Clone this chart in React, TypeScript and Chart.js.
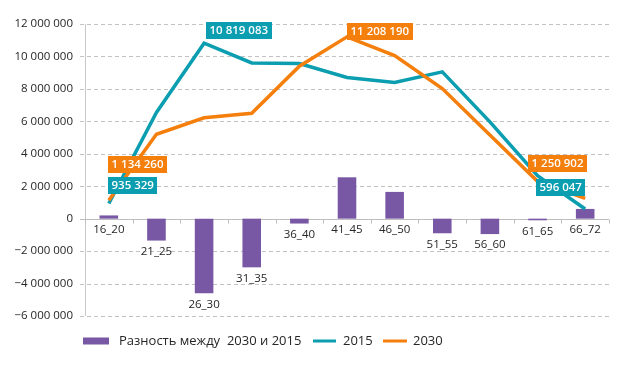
import React, { useEffect, useRef } from "react";
import { Chart, registerables } from "chart.js";

Chart.register(...registerables);

const categories = ["16_20", "21_25", "26_30", "31_35", "36_40", "41_45", "46_50", "51_55", "56_60", "61_65", "66_72"];
const diffValues = [200000, -1350000, -4600000, -3000000, -300000, 2550000, 1650000, -900000, -950000, -100000, 600000];
const values2015 = [935329, 6550000, 10819083, 9600000, 9560000, 8700000, 8400000, 9050000, 5970000, 2650000, 596047];
const values2030 = [1134260, 5200000, 6220000, 6500000, 9400000, 11208190, 10050000, 8020000, 5150000, 2300000, 1250902];
const yMin = -6000000;
const yMax = 12000000;
const yStep = 2000000;
const seriesNames = ["Разность между  2030 и 2015", "2015", "2030"];

const PURPLE = "#7857a4";
const TEAL = "#0b9db0";
const ORANGE = "#f57f0c";
const FONT = "'Open Sans', 'Noto Sans', sans-serif";

// label placement: dataset index, point index, alignment, vertical offset of box bottom from point
const labelSpecs = [
  { ds: 1, i: 0, align: "left", dx: -1, bottomOff: -9 },
  { ds: 2, i: 0, align: "left", dx: -1, bottomOff: -27 },
  { ds: 1, i: 2, align: "left", dx: 2, bottomOff: -4 },
  { ds: 2, i: 5, align: "left", dx: 0, bottomOff: 3 },
  { ds: 2, i: 10, align: "right", dx: 2, bottomOff: -26 },
  { ds: 1, i: 10, align: "right", dx: 0, bottomOff: -13 },
];

function fmt(n: number): string {
  const s = Math.abs(Math.round(n)).toString().replace(/\B(?=(\d{3})+(?!\d))/g, " ");
  return (n < 0 ? "\u2212" : "") + s;
}

const gridPlugin = {
  id: "customGrid",
  beforeDatasetsDraw(chart: any) {
    const { ctx, chartArea, scales } = chart;
    const y = scales.y;
    const x = scales.x;
    ctx.save();
    ctx.lineWidth = 1;
    // dashed gridlines
    ctx.strokeStyle = "#c2c2c2";
    ctx.setLineDash([4, 3]);
    for (let v = yMin; v <= yMax; v += yStep) {
      if (v === 0) continue;
      const py = Math.round(y.getPixelForValue(v)) + 0.5;
      ctx.beginPath();
      ctx.moveTo(chartArea.left - 5, py);
      ctx.lineTo(chartArea.right, py);
      ctx.stroke();
    }
    ctx.setLineDash([]);
    // y axis line
    ctx.strokeStyle = "#c8c8c8";
    const ax = Math.round(chartArea.left) + 0.5;
    ctx.beginPath();
    ctx.moveTo(ax, chartArea.top);
    ctx.lineTo(ax, chartArea.bottom);
    ctx.stroke();
    // zero line with ticks
    const y0 = Math.round(y.getPixelForValue(0)) + 0.5;
    ctx.strokeStyle = "#bdbdbd";
    ctx.beginPath();
    ctx.moveTo(chartArea.left - 5, y0);
    ctx.lineTo(chartArea.right, y0);
    ctx.stroke();
    const half = (x.getPixelForValue(1) - x.getPixelForValue(0)) / 2;
    for (let i = 0; i <= categories.length; i++) {
      const px = Math.round(x.getPixelForValue(i) - half) + 0.5;
      ctx.beginPath();
      ctx.moveTo(px, y0);
      ctx.lineTo(px, y0 + 4);
      ctx.stroke();
    }
    ctx.restore();
  },
};

const labelPlugin = {
  id: "customLabels",
  afterDatasetsDraw(chart: any) {
    const { ctx, scales } = chart;
    const y = scales.y;
    ctx.save();
    // category labels under bars
    const barMeta = chart.getDatasetMeta(0);
    ctx.font = `11.5px ${FONT}`;
    ctx.fillStyle = "#262626";
    ctx.textAlign = "center";
    ctx.textBaseline = "middle";
    categories.forEach((c, i) => {
      const el = barMeta.data[i];
      const v = diffValues[i];
      const base = v < 0 ? y.getPixelForValue(v) : y.getPixelForValue(0);
      ctx.fillText(c, el.x, base + 11);
    });
    // value boxes
    ctx.font = `600 11.5px ${FONT}`;
    labelSpecs.forEach((s) => {
      const meta = chart.getDatasetMeta(s.ds);
      const pt = meta.data[s.i];
      const val = chart.data.datasets[s.ds].data[s.i] as number;
      const text = fmt(val);
      const tw = ctx.measureText(text).width;
      const w = tw + 7;
      const h = 17;
      const left = s.align === "left" ? pt.x + s.dx : pt.x + s.dx - w;
      const bottom = pt.y + s.bottomOff;
      ctx.fillStyle = s.ds === 1 ? TEAL : ORANGE;
      ctx.fillRect(Math.round(left), Math.round(bottom - h), Math.round(w), h);
      ctx.fillStyle = "#ffffff";
      ctx.textAlign = "center";
      ctx.textBaseline = "middle";
      ctx.fillText(text, Math.round(left) + w / 2, Math.round(bottom - h) + h / 2 + 0.5);
    });
    ctx.restore();
  },
  afterDraw(chart: any) {
    const { ctx } = chart;
    ctx.save();
    const ly = 341;
    ctx.font = `13px ${FONT}`;
    ctx.fillStyle = "#262626";
    ctx.textBaseline = "middle";
    ctx.textAlign = "left";
    ctx.fillStyle = PURPLE;
    ctx.fillRect(83, ly - 3.5, 26, 7);
    ctx.fillStyle = "#262626";
    ctx.fillText(seriesNames[0], 119, ly);
    ctx.lineWidth = 3;
    ctx.strokeStyle = TEAL;
    ctx.beginPath();
    ctx.moveTo(313, ly);
    ctx.lineTo(336, ly);
    ctx.stroke();
    ctx.fillText(seriesNames[1], 343, ly);
    ctx.strokeStyle = ORANGE;
    ctx.beginPath();
    ctx.moveTo(383, ly);
    ctx.lineTo(407, ly);
    ctx.stroke();
    ctx.fillText(seriesNames[2], 413, ly);
    ctx.restore();
  },
};

export default function App() {
  const ref = useRef<HTMLCanvasElement>(null);
  useEffect(() => {
    document.body.style.margin = "0";
    if (!ref.current) return;
    const chart = new Chart(ref.current, {
      type: "bar",
      data: {
        labels: categories,
        datasets: [
          {
            type: "bar",
            label: seriesNames[0],
            data: diffValues,
            backgroundColor: PURPLE,
            borderWidth: 0,
            categoryPercentage: 1,
            barPercentage: 0.39,
            order: 3,
          },
          {
            type: "line",
            label: seriesNames[1],
            data: values2015,
            borderColor: TEAL,
            backgroundColor: TEAL,
            borderWidth: 3.5,
            pointRadius: 0,
            tension: 0,
            order: 2,
          },
          {
            type: "line",
            label: seriesNames[2],
            data: values2030,
            borderColor: ORANGE,
            backgroundColor: ORANGE,
            borderWidth: 3.5,
            pointRadius: 0,
            tension: 0,
            order: 1,
          },
        ] as any,
      },
      options: {
        responsive: false,
        animation: false,
        devicePixelRatio: 1,
        layout: { padding: { left: 0, top: 24, right: 19, bottom: 51 } },
        plugins: { legend: { display: false }, tooltip: { enabled: false } },
        scales: {
          x: { display: false, offset: true },
          y: {
            min: yMin,
            max: yMax,
            grid: { display: false, drawTicks: false },
            border: { display: false },
            ticks: {
              stepSize: yStep,
              padding: 12,
              color: "#262626",
              font: { family: FONT, size: 11.5 },
              callback: (v: any) => fmt(Number(v)),
            },
            afterFit: (s: any) => {
              s.width = 85;
            },
          },
        },
      } as any,
      plugins: [gridPlugin, labelPlugin],
    });
    return () => chart.destroy();
  }, []);
  return (
    <div style={{ position: "absolute", left: 0, top: 0, width: 628, height: 367, background: "#fff" }}>
      <canvas ref={ref} width={628} height={367} style={{ display: "block" }} />
    </div>
  );
}
